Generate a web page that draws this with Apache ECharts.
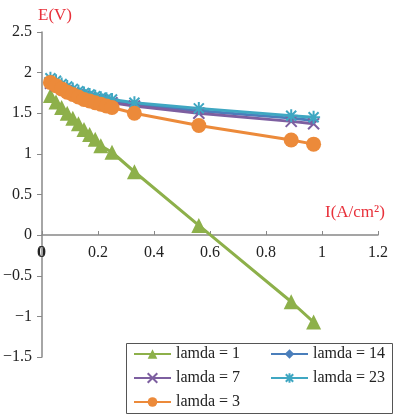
<!DOCTYPE html>
<html lang="en">
<head>
    <meta charset="UTF-8">
    <title>E-I curves</title>
    <script src="https://cdn.jsdelivr.net/npm/echarts@6/dist/echarts.min.js"></script>
    <style>
        html, body { margin: 0; padding: 0; background: #fff; }
        #chart { width: 400px; height: 414px; }
    </style>
</head>
<body>
<div id="chart"></div>
<script type="text/javascript">
    // current density (A/cm2)
    var currentL1 = [0.03, 0.05, 0.07, 0.09, 0.11, 0.13, 0.15, 0.17, 0.19, 0.21, 0.25, 0.33, 0.56, 0.89, 0.97];
    var currentHi = [0.03, 0.05, 0.07, 0.09, 0.11, 0.13, 0.15, 0.17, 0.19, 0.21, 0.23, 0.25, 0.33, 0.56, 0.89, 0.97];

    // voltage (V)
    var voltL1  = [1.72, 1.64, 1.57, 1.50, 1.44, 1.37, 1.30, 1.24, 1.18, 1.10, 1.02, 0.78, 0.12, -0.82, -1.07];
    var voltL14 = [1.90, 1.87, 1.84, 1.81, 1.78, 1.75, 1.73, 1.71, 1.69, 1.68, 1.66, 1.65, 1.61, 1.53, 1.44, 1.41];
    var voltL7  = [1.87, 1.84, 1.81, 1.78, 1.75, 1.73, 1.71, 1.69, 1.67, 1.66, 1.64, 1.63, 1.59, 1.50, 1.40, 1.37];
    var voltL23 = [1.93, 1.90, 1.86, 1.83, 1.80, 1.77, 1.75, 1.73, 1.71, 1.69, 1.68, 1.67, 1.63, 1.56, 1.47, 1.45];
    var voltL3  = [1.88, 1.84, 1.80, 1.76, 1.73, 1.70, 1.67, 1.65, 1.63, 1.61, 1.59, 1.57, 1.50, 1.35, 1.17, 1.12];

    var names = ['lamda = 1', 'lamda = 14', 'lamda = 7', 'lamda = 23', 'lamda = 3'];

    function pairs(xs, ys) {
        return xs.map(function (x, i) { return [x, ys[i]]; });
    }

    var font = 'Liberation Serif';
    var myChart = echarts.init(document.getElementById('chart'));

    function line(name, data, color, symbol, size, stroke) {
        return {
            name: name,
            type: 'line',
            data: data,
            symbol: symbol,
            symbolSize: size,
            lineStyle: { color: color, width: 3 },
            itemStyle: stroke ? { color: color, borderColor: color, borderWidth: 2 } : { color: color },
            animation: false
        };
    }

    var star = 'path://M-1,-1L1,1M1,-1L-1,1M0,-1.3L0,1.3M-1.3,0L1.3,0';
    var cross = 'path://M-1,-1L1,1M1,-1L-1,1';

    myChart.setOption({
        backgroundColor: '#fff',
        grid: { left: 41, right: 22, top: 32, bottom: 57 },
        xAxis: {
            type: 'value',
            min: 0, max: 1.2, interval: 0.2,
            name: 'I(A/cm²)',
            nameLocation: 'end',
            nameGap: -53,
            nameTextStyle: { color: '#e8303a', fontFamily: font, fontSize: 17, verticalAlign: 'bottom', padding: [0, 0, 14, 0] },
            offset: -122,
            axisLine: { onZero: false, lineStyle: { color: '#888', width: 1.5 } },
            axisTick: { inside: true, length: 4, lineStyle: { color: '#888' } },
            axisLabel: { color: '#222', fontFamily: font, fontSize: 16, margin: 10 },
            splitLine: { show: false }
        },
        yAxis: {
            type: 'value',
            min: -1.5, max: 2.5, interval: 0.5,
            name: 'E(V)',
            nameGap: 8,
            nameTextStyle: { color: '#e8303a', fontFamily: font, fontSize: 17, align: 'left', padding: [0, 0, 0, -4] },
            axisLine: { show: true, onZero: false, lineStyle: { color: '#888', width: 1.5 } },
            axisTick: { show: true, length: 5, lineStyle: { color: '#888' } },
            axisLabel: {
                color: '#222', fontFamily: font, fontSize: 16, margin: 10,
                formatter: function (v) { return String(v).replace('-', '\u2212'); }
            },
            splitLine: { show: false }
        },
        legend: [
            {
                data: [names[0], names[2], names[4]],
                orient: 'vertical',
                left: 133, top: 346, padding: 0,
                itemWidth: 37, itemHeight: 12, itemGap: 8,
                textStyle: { color: '#222', fontFamily: font, fontSize: 16 }
            },
            {
                data: [names[1], names[3]],
                orient: 'vertical',
                left: 270, top: 346, padding: 0,
                itemWidth: 37, itemHeight: 12, itemGap: 8,
                textStyle: { color: '#222', fontFamily: font, fontSize: 16 }
            }
        ],
        graphic: [
            {
                // origin "0" of the x axis, which the library drops at the axis crossing
                type: 'text',
                left: 37, top: 245,
                style: { text: '0', fill: '#222', font: '16px "Liberation Serif"' },
                silent: true
            },
            {
                type: 'rect',
                shape: { x: 126.5, y: 343.5, width: 266, height: 70 },
                style: { fill: 'none', stroke: '#555', lineWidth: 1 },
                silent: true
            }
        ],
        series: [
            line(names[0], pairs(currentL1, voltL1), '#8db04a', 'triangle', 15),
            line(names[1], pairs(currentHi, voltL14), '#4a7ebb', 'diamond', 9),
            line(names[2], pairs(currentHi, voltL7), '#7d5fa0', cross, 11, true),
            line(names[3], pairs(currentHi, voltL23), '#3fa7c2', star, 13, true),
            line(names[4], pairs(currentHi, voltL3), '#ec8a3a', 'circle', 15)
        ]
    });
</script>
</body>
</html>
